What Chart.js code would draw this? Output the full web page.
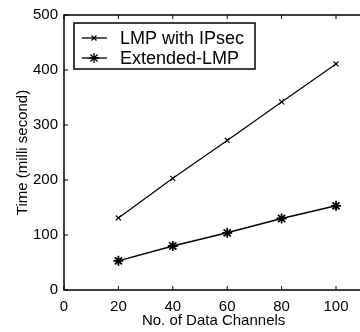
<!DOCTYPE html>
<html>
<head>
<meta charset="utf-8">
<script src="https://cdn.jsdelivr.net/npm/chart.js@4"></script>
<style>
  html, body { margin: 0; padding: 0; background: #fff; overflow: hidden; }
  #wrap { width: 370px; height: 332px; }
</style>
</head>
<body>
<div id="wrap"><canvas id="chart" width="370" height="332"></canvas></div>
<script>
const channels = [20, 40, 60, 80, 100];
const lmpIpsec = [131, 203, 272, 342, 411];
const extendedLmp = [53, 80, 104, 130, 153];
const seriesNames = ["LMP with IPsec", "Extended-LMP"];
const xTicks = [0, 20, 40, 60, 80, 100];
const yTicks = [0, 100, 200, 300, 400, 500];

const font = "'Liberation Sans', Arial, sans-serif";

// matlab style frame with ticks pointing inwards
const frame = {
  id: "frame",
  afterDraw(chart) {
    const { ctx, chartArea: a, scales } = chart;
    ctx.save();
    ctx.strokeStyle = "#000";
    ctx.lineWidth = 1.5;
    ctx.strokeRect(a.left, a.top, a.right - a.left, a.bottom - a.top);
    ctx.lineWidth = 1;
    ctx.beginPath();
    xTicks.forEach(v => {
      const x = scales.x.getPixelForValue(v);
      ctx.moveTo(x, a.bottom); ctx.lineTo(x, a.bottom - 4);
      ctx.moveTo(x, a.top); ctx.lineTo(x, a.top + 4);
    });
    yTicks.forEach(v => {
      const y = scales.y.getPixelForValue(v);
      ctx.moveTo(a.left, y); ctx.lineTo(a.left + 4, y);
    });
    ctx.stroke();

    // legend box
    const bx = a.left + 10, by = a.top + 8, bw = 181, bh = 46;
    ctx.fillStyle = "#fff";
    ctx.fillRect(bx, by, bw, bh);
    ctx.lineWidth = 1.5;
    ctx.strokeRect(bx, by, bw, bh);
    chart.data.datasets.forEach((ds, i) => {
      const y = by + 15 + i * 20;
      ctx.lineWidth = 1.3;
      ctx.beginPath();
      ctx.moveTo(bx + 8, y); ctx.lineTo(bx + 33, y);
      ctx.stroke();
      Chart.helpers.drawPoint(ctx, {
        pointStyle: ds.pointStyle, radius: ds.pointRadius, borderWidth: ds.pointBorderWidth
      }, bx + 20, y);
      ctx.fillStyle = "#000";
      ctx.font = "18px " + font;
      ctx.textBaseline = "middle";
      ctx.fillText(ds.label, bx + 46, y + 1);
    });
    ctx.restore();
  }
};

new Chart(document.getElementById("chart"), {
  type: "line",
  data: {
    labels: channels,
    datasets: [
      {
        label: seriesNames[0],
        data: channels.map((c, i) => ({ x: c, y: lmpIpsec[i] })),
        borderColor: "#000",
        borderWidth: 1.2,
        pointStyle: "crossRot",
        pointRadius: 3.5,
        pointBorderWidth: 1.2,
        pointBorderColor: "#000",
        fill: false
      },
      {
        label: seriesNames[1],
        data: channels.map((c, i) => ({ x: c, y: extendedLmp[i] })),
        borderColor: "#000",
        borderWidth: 1.5,
        pointStyle: "star",
        pointRadius: 5,
        pointBorderWidth: 1.8,
        pointBorderColor: "#000",
        fill: false
      }
    ]
  },
  options: {
    responsive: false,
    animation: false,
    layout: { padding: { top: 14, left: 0, right: 0, bottom: 0 } },
    plugins: { legend: { display: false }, tooltip: { enabled: false } },
    scales: {
      x: {
        type: "linear",
        min: 0,
        max: 110,
        afterBuildTicks: s => { s.ticks = xTicks.map(v => ({ value: v })); },
        afterFit: s => { s.height = 42; },
        grid: { display: false, drawTicks: false },
        border: { display: false },
        ticks: { color: "#000", padding: 8, font: { family: font, size: 15 }, maxRotation: 0 },
        title: {
          display: true,
          text: "No. of Data Channels",
          color: "#000",
          font: { family: font, size: 15 },
          padding: { top: 0, bottom: 2 }
        }
      },
      y: {
        min: 0,
        max: 500,
        afterBuildTicks: s => { s.ticks = yTicks.map(v => ({ value: v })); },
        afterFit: s => { s.width = 64; },
        grid: { display: false, drawTicks: false },
        border: { display: false },
        ticks: { color: "#000", padding: 6, font: { family: font, size: 15 } },
        title: {
          display: true,
          text: "Time (milli second)",
          color: "#000",
          font: { family: font, size: 15 },
          padding: { top: 14, bottom: 0 }
        }
      }
    }
  },
  plugins: [frame]
});
</script>
</body>
</html>
